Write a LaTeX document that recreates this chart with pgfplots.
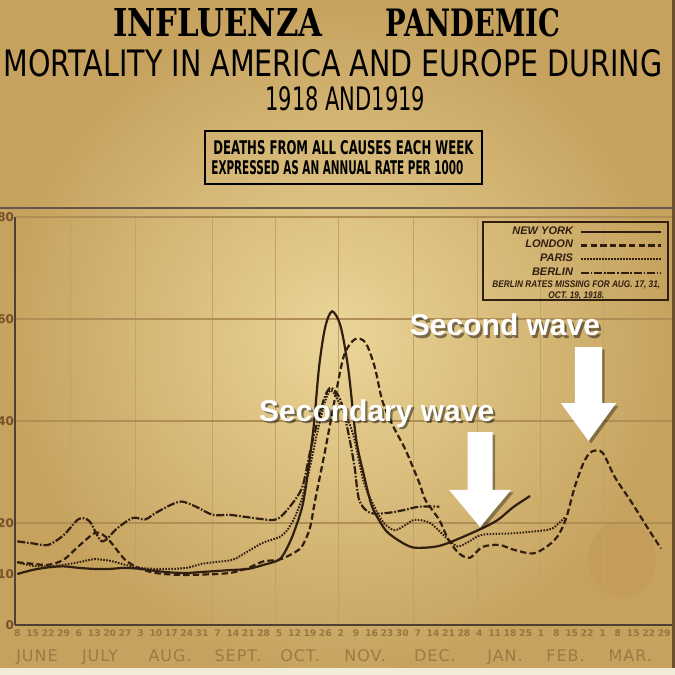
\documentclass[border=0pt]{standalone}
\usepackage{fontspec}
\usepackage{graphicx}
\usepackage{pgfplots}
\pgfplotsset{compat=1.18}
\setmainfont{DejaVu Serif}
\newfontfamily\titlefont{DejaVu Serif}
\newfontfamily\letterfont{DejaVu Sans}
\newfontfamily\monthfont[LetterSpace=6]{DejaVu Sans}
\newfontfamily\annfont{Liberation Sans}

\definecolor{paper}{RGB}{222,196,132}
\definecolor{paperlight}{RGB}{234,213,152}
\definecolor{paperdark}{RGB}{198,162,94}
\definecolor{ink}{RGB}{48,30,16}
\definecolor{gridcol}{RGB}{176,142,86}
\definecolor{vgridcol}{RGB}{192,162,106}
\definecolor{faded}{RGB}{150,118,66}
\definecolor{monthcol}{RGB}{155,122,68}
\definecolor{ytickcol}{RGB}{118,80,40}
\definecolor{stain}{RGB}{160,100,35}
\definecolor{bottomstrip}{RGB}{242,236,218}
\definecolor{rightedge}{RGB}{110,80,45}

\begin{document}
\begin{tikzpicture}[x=1pt,y=1pt]
\path[use as bounding box] (0,0) rectangle (337.5,337.5);
\fill[paper] (0,0) rectangle (337.5,337.5);
\shade[inner color=paperlight, outer color=paperdark] (0,0) rectangle (337.5,337.5);
\fill[stain, opacity=0.08] (311,58) ellipse (17pt and 19pt);
\fill[bottomstrip] (0,0) rectangle (337.5,3.5);
\fill[rightedge] (335.8,3.5) rectangle (337.5,337.5);

% titles
\node[anchor=base west, inner sep=0pt, text=black] at (56.5,319) {\resizebox{104.5pt}{14pt}{\titlefont\bfseries INFLUENZA}};
\node[anchor=base west, inner sep=0pt, text=black] at (192.5,319) {\resizebox{87.5pt}{14pt}{\titlefont\bfseries PANDEMIC}};
\node[anchor=base west, inner sep=0pt, text=black] at (1.5,299) {\resizebox{329.5pt}{13.5pt}{\letterfont MORTALITY IN AMERICA AND EUROPE DURING}};
\node[anchor=base west, inner sep=0pt, text=black] at (132.5,282) {\resizebox{80pt}{12pt}{\letterfont 1918 AND1919}};
\draw[line width=0.9pt, black] (102.5,245.5) rectangle (241,272);
\node[anchor=base west, inner sep=0pt, text=black] at (106.5,260) {\resizebox{130pt}{7pt}{\letterfont\bfseries DEATHS FROM ALL CAUSES EACH WEEK}};
\node[anchor=base west, inner sep=0pt, text=black] at (105.5,250) {\resizebox{126pt}{7pt}{\letterfont\bfseries EXPRESSED AS AN ANNUAL RATE PER 1000}};
\draw[line width=0.6pt, ink!75] (0,233.5) -- (337.5,233.5);

\begin{axis}[
  at={(7.5pt,25pt)}, anchor=south west,
  scale only axis, width=328.4pt, height=204pt,
  xmin=-0.15, xmax=42.5, ymin=0, ymax=80,
  axis x line*=bottom, axis y line*=left,
  axis line style={draw=ink!85, line width=0.7pt, -},
  xtick={0,...,42},
  xticklabels={8,15,22,29,6,13,20,27,3,10,17,24,31,7,14,21,28,5,12,19,26,2,9,16,23,30,7,14,21,28,4,11,18,25,1,8,15,22,1,8,15,22,29},
  xticklabel style={font=\letterfont\bfseries\fontsize{4.6}{5}\selectfont, text=faded, anchor=north, inner sep=0pt, yshift=-2pt},
  major tick length=0pt, minor tick length=0pt,
  minor xtick={3.44,7.66,12.66,16.75,20.84,25.7,29.87,33.96,38.05},
  xminorgrids=true,
  minor x grid style={vgridcol, line width=0.5pt},
  ytick={0,20,40,60,80},
  ymajorgrids=true,
  major y grid style={gridcol, line width=0.6pt},
  extra y ticks={10},
  extra y tick style={grid=none},
  yticklabel style={font=\letterfont\bfseries\fontsize{6}{6}\selectfont, text=ytickcol, anchor=east, inner sep=0pt, xshift=-0.3pt},
  extra x ticks={1.28,5.37,9.92,14.33,18.36,22.58,27.12,31.67,35.6,39.8},
  extra x tick labels={JUNE,JULY,AUG.,SEPT.,OCT.,NOV.,DEC.,JAN.,FEB.,MAR.},
  extra x tick style={grid=none, xticklabel style={font=\monthfont\fontsize{8}{8}\selectfont, text=monthcol, yshift=-10pt}},
  /pgf/number format/assume math mode=true,
  clip=false,
  legend style={at={(axis cs:41.9,78.4)}, anchor=north east, draw=none, fill=none,
    font=\annfont\bfseries\itshape\fontsize{5.5}{5.5}\selectfont, text=ink,
    row sep=0.5pt, column sep=3pt, inner sep=0pt, nodes={inner sep=0.5pt}},
  legend cell align=right,
  legend plot pos=right,
  legend image code/.code={\draw[#1] (0pt,0pt) -- (40pt,0pt);},
]

% New York (solid)
\addplot[ink, line width=1.1pt, smooth, tension=0.5] coordinates {
(0,10.0) (1,10.8) (2,11.3) (3,11.5) (4,11.2) (5,11.0) (6,11.0) (7,11.2) (8,11.0) (9,10.6)
(10,10.3) (11,10.2) (12,10.4) (13,10.6) (14,10.8) (15,11.0) (16,11.8) (17,12.8) (17.5,15)
(18,18.5) (18.6,24.6) (19.2,37.7) (19.6,50.7) (20,58.5) (20.45,61.5) (21,58.5) (21.5,50)
(22,36.5) (22.5,29.5) (23,23.5) (23.5,20.5) (24,18.3) (24.8,16.5) (25.7,15.2) (27,15.3)
(28,16.1) (30,18.7) (31.2,20.6) (32.2,23.1) (33.3,25.3)
};
\addlegendentry{NEW YORK}

% London (dashed)
\addplot[ink, line width=1.1pt, smooth, tension=0.5, dash pattern=on 3.2pt off 1.6pt] coordinates {
(0,12.3) (1,12.0) (2,11.8) (3,12.8) (4,15.5) (5,18.0) (5.5,17.8) (6,16.5) (7,12.8) (8,11.0)
(9,10.2) (10,9.9) (11,9.8) (12,9.9) (13,10.0) (14,10.3) (15,11.2) (16,12.5) (17,12.8)
(18,14.2) (18.5,15.5) (19,19.0) (19.35,24.6) (20,34.4) (20.6,44) (21.2,52.7) (21.9,56)
(22.6,55.4) (23.2,50.7) (23.7,44) (24.4,39) (25.2,34.4) (26.1,27.9) (26.5,24.5) (27.4,20.6)
(28,16.7) (28.7,14) (29.4,13.2) (30.2,15.3) (31.3,15.7) (32.3,14.7) (33.6,14.1) (34.9,16.7)
(35.6,20.6) (36.2,27.1) (36.8,32) (37.3,34) (38,33.8) (38.8,29) (39.9,24) (41,18.7) (41.8,15)
};
\addlegendentry{LONDON}

% Paris (dotted)
\addplot[ink, line width=1.0pt, smooth, tension=0.5, dash pattern=on 0.8pt off 0.7pt] coordinates {
(0,12.3) (1,11.6) (2,11.5) (3,11.8) (4,12.3) (5,12.9) (6,12.6) (7,11.8) (8,11.2) (9,11.0)
(10,11.0) (11,11.2) (12,12.0) (13,12.4) (14,12.8) (15,14.5) (16,16.2) (17,17.2) (17.5,18.5)
(18,21) (18.5,25) (19,31) (19.5,38) (20,44) (20.4,46) (21,43) (21.5,40) (21.9,36.3) (22.5,28)
(23.2,23.1) (23.8,20) (24.5,18.6) (25.2,19.6) (25.8,20.6) (26.8,20) (28,16.7) (28.6,15.4)
(29.3,16.3) (30.2,17.7) (32.3,18.0) (34.5,18.7) (35.1,19.8) (35.6,21.2)
};
\addlegendentry{PARIS}

% Berlin (dash-dot)
\addplot[ink, line width=1.1pt, smooth, tension=0.5, dash pattern=on 4pt off 0.9pt on 0.8pt off 0.9pt] coordinates {
(0,16.4) (1,16.0) (2,15.7) (3,17.6) (4,20.8) (4.7,20.3) (5.5,16.4) (6.5,19.0) (7.5,21.0)
(8.3,20.7) (9,22.0) (10,23.6) (10.7,24.2) (11.6,23.2) (12.7,21.6) (13.8,21.6) (14.8,21.2)
(16.4,20.6) (17,21.0) (17.7,23.2) (18.5,27) (19,33.8) (19.5,40) (20,45) (20.4,46.5) (21,44)
(21.5,37.6) (21.9,31) (22.2,24.5) (22.9,22) (24.1,22) (25.2,22.6) (26.1,23.2) (27.4,23.2)
};
\addlegendentry{BERLIN}

% legend frame and note
\draw[ink, line width=0.8pt] (axis cs:30.24,79.0) rectangle (axis cs:42.25,63.7);
\node[font=\annfont\bfseries\itshape\fontsize{4.8}{5.5}\selectfont, text=ink, align=center, inner sep=0pt]
  at (axis cs:36.3,65.6) {\scalebox{0.86}[1]{BERLIN RATES MISSING FOR AUG. 17, 31,}\\\scalebox{0.86}[1]{OCT. 19, 1918.}};

% arrows (shadow + white)
\begin{scope}[xshift=1.3pt, yshift=-1.3pt]
\fill[black, opacity=0.35] (axis cs:29.24,37.8) -- (axis cs:30.86,37.8) -- (axis cs:30.86,26.5) -- (axis cs:32.06,26.5) -- (axis cs:30.05,19.2) -- (axis cs:28.04,26.5) -- (axis cs:29.24,26.5) -- cycle;
\fill[black, opacity=0.35] (axis cs:36.21,54.5) -- (axis cs:37.97,54.5) -- (axis cs:37.97,43.5) -- (axis cs:38.88,43.5) -- (axis cs:37.09,36.1) -- (axis cs:35.30,43.5) -- (axis cs:36.21,43.5) -- cycle;
\end{scope}
\fill[white] (axis cs:29.24,37.8) -- (axis cs:30.86,37.8) -- (axis cs:30.86,26.5) -- (axis cs:32.06,26.5) -- (axis cs:30.05,19.2) -- (axis cs:28.04,26.5) -- (axis cs:29.24,26.5) -- cycle;
\fill[white] (axis cs:36.21,54.5) -- (axis cs:37.97,54.5) -- (axis cs:37.97,43.5) -- (axis cs:38.88,43.5) -- (axis cs:37.09,36.1) -- (axis cs:35.30,43.5) -- (axis cs:36.21,43.5) -- cycle;

% annotation texts
\node[anchor=base, font=\annfont\bfseries\fontsize{15}{15}\selectfont, text=black, opacity=0.45, inner sep=0pt] at ([xshift=1.1pt,yshift=-1.1pt]axis cs:31.67,56.7) {Second wave};
\node[anchor=base, font=\annfont\bfseries\fontsize{15}{15}\selectfont, text=white, inner sep=0pt] at (axis cs:31.67,56.7) {Second wave};
\node[anchor=base, font=\annfont\bfseries\fontsize{15}{15}\selectfont, text=black, opacity=0.45, inner sep=0pt] at ([xshift=1.1pt,yshift=-1.1pt]axis cs:23.34,40.0) {Secondary wave};
\node[anchor=base, font=\annfont\bfseries\fontsize{15}{15}\selectfont, text=white, inner sep=0pt] at (axis cs:23.34,40.0) {Secondary wave};
\end{axis}
\end{tikzpicture}
\end{document}
